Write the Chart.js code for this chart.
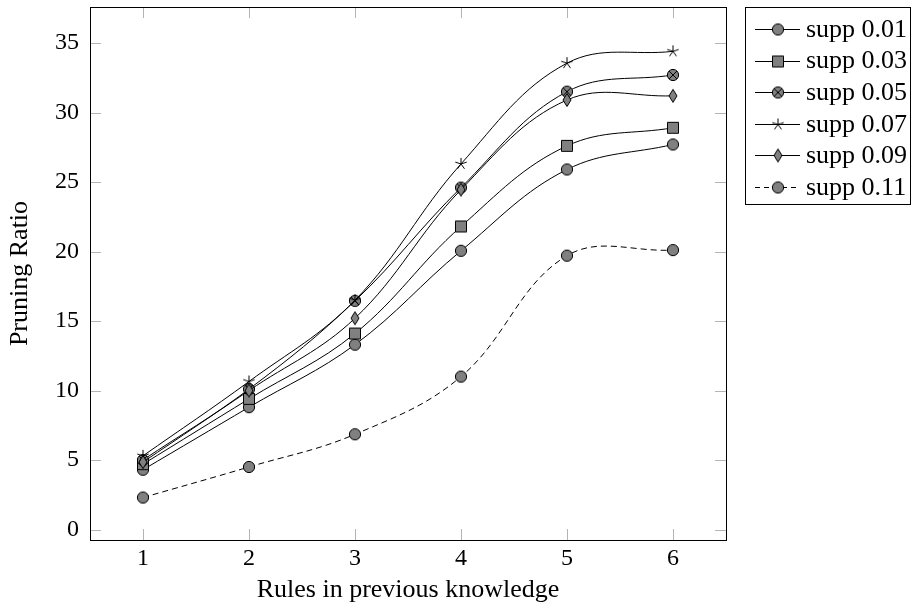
<!DOCTYPE html>
<html>
<head>
<meta charset="utf-8">
<script src="https://cdn.jsdelivr.net/npm/chart.js@4/dist/chart.umd.min.js"></script>
<style>
html,body{margin:0;padding:0;background:#fff;}
#wrap{width:913px;height:612px;position:relative;}
</style>
</head>
<body>
<div id="wrap"><canvas id="c" width="913" height="612"></canvas></div>
<script>
const categories = [1, 2, 3, 4, 5, 6];
const seriesNames = ["supp 0.01", "supp 0.03", "supp 0.05", "supp 0.07", "supp 0.09", "supp 0.11"];
const supp001 = [4.3, 8.8, 13.3, 20.05, 25.9, 27.7];
const supp003 = [4.7, 9.4, 14.1, 21.8, 27.6, 28.9];
const supp005 = [5.0, 10.1, 16.45, 24.6, 31.5, 32.7];
const supp007 = [5.3, 10.65, 16.5, 26.3, 33.55, 34.4];
const supp009 = [4.85, 10.0, 15.2, 24.45, 30.9, 31.2];
const supp011 = [2.3, 4.5, 6.85, 11.0, 19.7, 20.1];
const yTicks = [0, 5, 10, 15, 20, 25, 30, 35];
const xTicks = [1, 2, 3, 4, 5, 6];
const markerTypes = ["circle", "square", "otimes", "star", "diamond", "circle"];
const dashed = [false, false, false, false, false, true];

const GRAY = "#808080";
function makeMarker(type) {
  const s = 16;
  const cv = document.createElement("canvas");
  cv.width = s; cv.height = s;
  const g = cv.getContext("2d");
  const c = s / 2;
  g.lineWidth = 1;
  g.strokeStyle = "#000";
  g.fillStyle = GRAY;
  if (type === "circle" || type === "otimes") {
    g.beginPath(); g.arc(c, c, 5.6, 0, Math.PI * 2); g.fill(); g.stroke();
    if (type === "otimes") {
      const d = 5.6 * Math.SQRT1_2;
      g.beginPath();
      g.moveTo(c - d, c - d); g.lineTo(c + d, c + d);
      g.moveTo(c + d, c - d); g.lineTo(c - d, c + d);
      g.stroke();
    }
  } else if (type === "square") {
    g.beginPath(); g.rect(c - 5.5, c - 5.5, 11, 11); g.fill(); g.stroke();
  } else if (type === "diamond") {
    g.beginPath();
    g.moveTo(c, c - 6.5); g.lineTo(c + 4, c); g.lineTo(c, c + 6.5); g.lineTo(c - 4, c);
    g.closePath(); g.fill(); g.stroke();
  } else if (type === "star") {
    g.beginPath();
    for (let k = 0; k < 5; k++) {
      const a = -Math.PI / 2 + k * 2 * Math.PI / 5;
      g.moveTo(c, c); g.lineTo(c + 6 * Math.cos(a), c + 6 * Math.sin(a));
    }
    g.stroke();
  }
  return cv;
}
const markers = markerTypes.map(makeMarker);
const allSeries = [supp001, supp003, supp005, supp007, supp009, supp011];

const datasets = allSeries.map((vals, i) => ({
  label: seriesNames[i],
  data: categories.map((x, j) => ({ x: x, y: vals[j] })),
  borderColor: "#000",
  borderWidth: 1,
  borderDash: dashed[i] ? [6, 4] : [],
  pointStyle: markers[i],
  pointRadius: 6,
  pointHoverRadius: 6,
  tension: 0.38,
  fill: false,
  order: allSeries.length - i
}));

const FONT = "'Liberation Serif', 'DejaVu Serif', serif";

const framePlugin = {
  id: "frame",
  beforeDatasetsDraw(chart) {
    const { ctx, chartArea: a, scales } = chart;
    ctx.save();
    ctx.strokeStyle = "#b4b4b4";
    ctx.lineWidth = 1;
    const L = 11;
    ctx.beginPath();
    yTicks.forEach(v => {
      const y = Math.round(scales.y.getPixelForValue(v)) + 0.5;
      ctx.moveTo(a.left, y); ctx.lineTo(a.left + L, y);
      ctx.moveTo(a.right, y); ctx.lineTo(a.right - L, y);
    });
    xTicks.forEach(v => {
      const x = Math.round(scales.x.getPixelForValue(v)) + 0.5;
      ctx.moveTo(x, a.bottom); ctx.lineTo(x, a.bottom - L);
      ctx.moveTo(x, a.top); ctx.lineTo(x, a.top + L);
    });
    ctx.stroke();
    ctx.restore();
  },
  afterDraw(chart) {
    const { ctx, chartArea: a } = chart;
    ctx.save();
    ctx.strokeStyle = "#000";
    ctx.lineWidth = 1;
    ctx.strokeRect(Math.round(a.left) + 0.5, Math.round(a.top) + 0.5,
      Math.round(a.right - a.left), Math.round(a.bottom - a.top));
    // legend
    const bx = 745.5, by = 7.5, bw = 165, bh = 197;
    ctx.fillStyle = "#fff";
    ctx.fillRect(bx, by, bw, bh);
    ctx.strokeRect(bx, by, bw, bh);
    ctx.font = "26px " + FONT;
    ctx.textBaseline = "middle";
    ctx.textAlign = "left";
    seriesNames.forEach((name, i) => {
      const yc = 29 + i * 31.6;
      ctx.strokeStyle = "#000";
      ctx.setLineDash(dashed[i] ? [5, 4] : []);
      ctx.beginPath();
      ctx.moveTo(755, Math.round(yc) + 0.5);
      ctx.lineTo(800, Math.round(yc) + 0.5);
      ctx.stroke();
      ctx.setLineDash([]);
      const m = markers[i];
      ctx.drawImage(m, 778 - m.width / 2, Math.round(yc) + 0.5 - m.height / 2);
      ctx.fillStyle = "#000";
      ctx.fillText(name, 806, yc + 1);
    });
    ctx.restore();
  }
};

new Chart(document.getElementById("c"), {
  type: "line",
  data: { datasets: datasets },
  options: {
    responsive: false,
    animation: false,
    layout: { padding: { top: 7, right: 187, left: 0, bottom: 0 } },
    plugins: { legend: { display: false }, tooltip: { enabled: false } },
    scales: {
      x: {
        type: "linear",
        min: 0.5, max: 6.5,
        afterBuildTicks: s => { s.ticks = xTicks.map(v => ({ value: v })); },
        afterFit: s => { s.height = 72; s.paddingLeft = 0; s.paddingRight = 0; },
        grid: { display: false, drawTicks: false },
        border: { display: false },
        ticks: { color: "#000", font: { family: FONT, size: 24 }, padding: 4, maxRotation: 0 },
        title: { display: true, text: "Rules in previous knowledge", color: "#000",
                 font: { family: FONT, size: 26 }, padding: { top: 0, bottom: 6 } }
      },
      y: {
        type: "linear",
        min: -0.755, max: 37.59,
        afterBuildTicks: s => { s.ticks = yTicks.map(v => ({ value: v })); },
        afterFit: s => { s.width = 90; s.paddingTop = 0; s.paddingBottom = 0; },
        grid: { display: false, drawTicks: false },
        border: { display: false },
        ticks: { color: "#000", font: { family: FONT, size: 24 }, padding: 11 },
        title: { display: true, text: "Pruning Ratio", color: "#000",
                 font: { family: FONT, size: 26 }, padding: { top: 5, bottom: 0 } }
      }
    }
  },
  plugins: [framePlugin]
});
</script>
</body>
</html>
